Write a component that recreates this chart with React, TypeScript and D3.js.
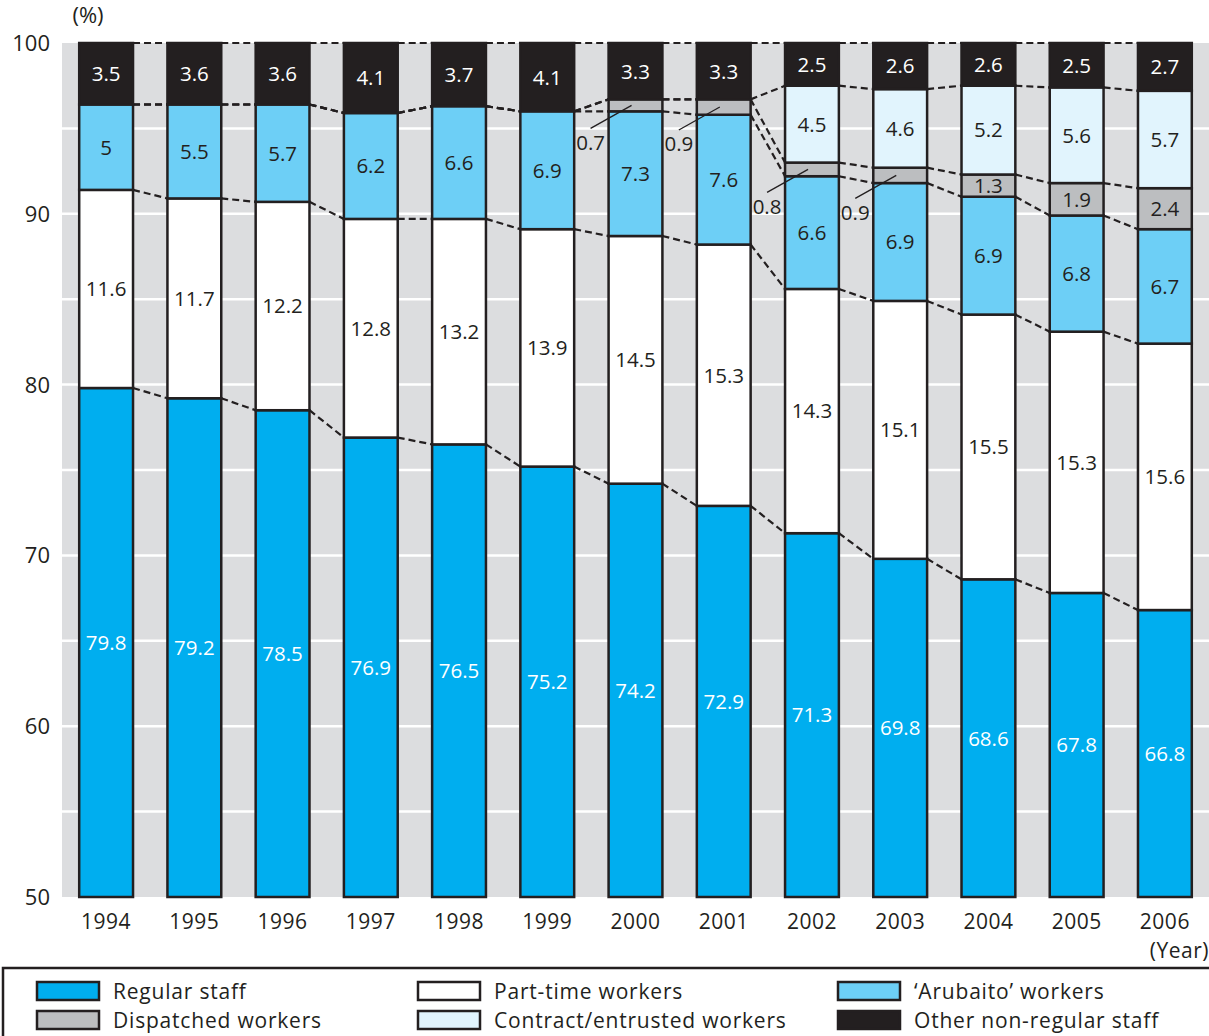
import React from 'react';
import * as d3 from 'd3';

const years = ['1994','1995','1996','1997','1998','1999','2000','2001','2002','2003','2004','2005','2006'];
const regular = [79.8,79.2,78.5,76.9,76.5,75.2,74.2,72.9,71.3,69.8,68.6,67.8,66.8];
const partTime = [11.6,11.7,12.2,12.8,13.2,13.9,14.5,15.3,14.3,15.1,15.5,15.3,15.6];
const arubaito = [5,5.5,5.7,6.2,6.6,6.9,7.3,7.6,6.6,6.9,6.9,6.8,6.7];
const dispatched = [0,0,0,0,0,0,0.7,0.9,0.8,0.9,1.3,1.9,2.4];
const contract = [0,0,0,0,0,0,0,0,4.5,4.6,5.2,5.6,5.7];
const other = [3.5,3.6,3.6,4.1,3.7,4.1,3.3,3.3,2.5,2.6,2.6,2.5,2.7];
const yTicks = [50,60,70,80,90,100];
const gridValues = [55,60,65,70,75,80,85,90,95];

const seriesNames = ['Regular staff','Part-time workers',"\u2018Arubaito\u2019 workers",'Dispatched workers','Contract/entrusted workers','Other non-regular staff'];
const seriesValues = [regular, partTime, arubaito, dispatched, contract, other];
const fills = ['#00aeef','#ffffff','#6dcff6','#bcbec0','#e1f4fd','#231f20'];
const textFills = ['#ffffff','#231f20','#231f20','#231f20','#231f20','#ffffff'];
const legendOrder = [0,3,1,4,2,5];

const INK = '#231f20';
const FONT = '"Open Sans", sans-serif';

export default function App() {
  const W = 1209, H = 1036;
  const left = 62, right = 1209, top = 43, bottom = 897;
  const x = d3.scaleBand<string>().domain(years).range([left, right]).paddingInner(0.39).paddingOuter(0.195);
  const y = d3.scaleLinear().domain([50, 100]).range([bottom, top]);
  const keys = seriesNames.map((_, i) => 'k' + i);
  const table = years.map((yr, j) => {
    const row: any = { year: yr };
    keys.forEach((k, i) => { row[k] = seriesValues[i][j]; });
    return row;
  });
  const stacked = d3.stack<any>().keys(keys)(table);
  const bw = x.bandwidth();

  const boundaries: number[][] = [];
  for (let s = 0; s < keys.length - 1; s++) boundaries.push(stacked[s].map(d => d[1]));
  boundaries.push(years.map(() => 100));

  const segs: any[] = [];
  stacked.forEach((layer, s) => {
    layer.forEach((d, j) => {
      const v = seriesValues[s][j];
      if (v <= 0) return;
      const y0v = s === 0 ? 50 : d[0];
      const y1v = s === keys.length - 1 ? 100 : d[1];
      segs.push({ s, j, v, y0v, y1v });
    });
  });

  const dashes: any[] = [];
  boundaries.forEach((b, bi) => {
    for (let j = 0; j < years.length - 1; j++) {
      dashes.push({ key: bi + '-' + j, x1: (x(years[j]) as number) + bw, y1: y(b[j]), x2: x(years[j + 1]) as number, y2: y(b[j + 1]) });
    }
  });

  return (
    <svg width={W} height={H} style={{ display: 'block', position: 'absolute', left: 0, top: 0 }} fontFamily={FONT}>
      <rect x={left} y={top} width={right - left} height={bottom - top} fill="#dcdddf" />
      {gridValues.map(g => (
        <line key={g} x1={left} x2={right} y1={y(g)} y2={y(g)} stroke="#ffffff" strokeWidth={2.5} />
      ))}
      {yTicks.map(t => (
        <text key={t} x={50} y={y(t)} dy="0.36em" textAnchor="end" fontSize={22} fill={INK}>{t}</text>
      ))}
      <text x={88} y={23} textAnchor="middle" fontSize={22} fill={INK}>(%)</text>
      {dashes.map(d => (
        <line key={d.key} x1={d.x1} y1={d.y1} x2={d.x2} y2={d.y2} stroke={INK} strokeWidth={2.2} strokeDasharray="7,4" />
      ))}
      {segs.map(sg => (
        <rect key={sg.s + '-' + sg.j} x={x(years[sg.j])} y={y(sg.y1v)} width={bw} height={y(sg.y0v) - y(sg.y1v)}
          fill={fills[sg.s]} stroke={INK} strokeWidth={2.5} />
      ))}
      {segs.map(sg => {
        const cx = (x(years[sg.j]) as number) + bw / 2;
        const cy = (y(sg.y0v) + y(sg.y1v)) / 2;
        if (sg.v < 1) {
          const x0 = x(years[sg.j]) as number;
          return (
            <g key={'l' + sg.s + '-' + sg.j}>
              <line x1={x0 + 23} y1={cy} x2={x0 - 18} y2={cy + 23} stroke={INK} strokeWidth={1.3} />
              <text x={x0 - 18} y={cy + 37} dy="0.36em" textAnchor="middle" fontSize={20.5} fill={INK}>{sg.v}</text>
            </g>
          );
        }
        return (
          <text key={'l' + sg.s + '-' + sg.j} x={cx} y={cy} dy="0.36em" textAnchor="middle" fontSize={20.5} fill={textFills[sg.s]}>{sg.v}</text>
        );
      })}
      {years.map(yr => (
        <text key={yr} x={(x(yr) as number) + bw / 2} y={921} dy="0.36em" textAnchor="middle" fontSize={21} letterSpacing={0.5} fill={INK}>{yr}</text>
      ))}
      <text x={1209} y={950} dy="0.36em" textAnchor="end" fontSize={21} letterSpacing={0.5} fill={INK}>(Year)</text>
      <rect x={3} y={968} width={1215} height={80} fill="none" stroke={INK} strokeWidth={2.5} />
      {legendOrder.map((s, i) => {
        const col = Math.floor(i / 2), row = i % 2;
        const lx = [37, 418, 838][col];
        const ly = [991, 1020][row];
        return (
          <g key={s}>
            <rect x={lx} y={ly - 9} width={62} height={18} fill={fills[s]} stroke={INK} strokeWidth={2.5} />
            <text x={lx + 76} y={ly} dy="0.36em" fontSize={21} letterSpacing={0.8} fill={INK}>{seriesNames[s]}</text>
          </g>
        );
      })}
    </svg>
  );
}
